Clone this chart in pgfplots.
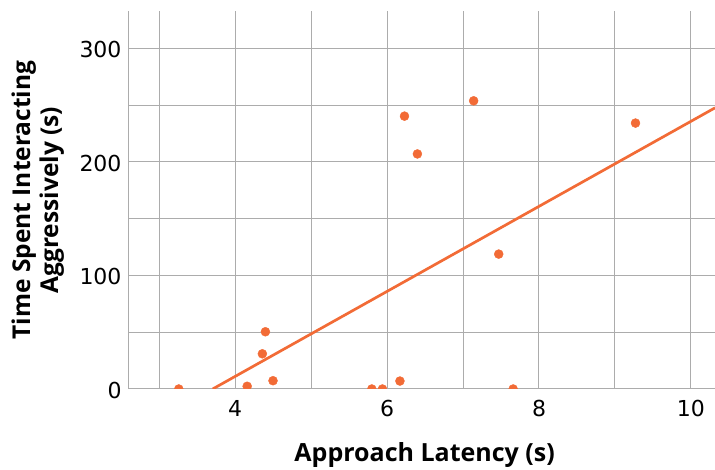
\documentclass[border=0pt]{standalone}
\usepackage{pgfplots}
\pgfplotsset{compat=1.18}
\usepackage{fontspec}
\setmainfont{DejaVu Sans}
\newfontfamily\labelfont{Open Sans}
\definecolor{pt}{RGB}{242,107,54}
\definecolor{gridc}{RGB}{172,172,172}
\begin{document}
\begin{tikzpicture}
\begin{axis}[
  scale only axis,
  width=586.3pt, height=378pt,
  xmin=2.601, xmax=10.316,
  ymin=0, ymax=332.9,
  axis x line*=bottom, axis y line*=left,
  axis line style={gridc, line width=1pt, -},
  xtick={4,6,8,10}, minor xtick={3,5,7,9},
  ytick={0,100,200,300}, minor ytick={50,150,250},
  grid=both,
  major grid style={gridc, line width=1pt},
  minor grid style={gridc, line width=1pt},
  major tick length=0pt, minor tick length=0pt,
  tick label style={font=\fontsize{22}{26}\selectfont},
  /pgf/number format/assume math mode=true,
  xticklabel style={anchor=base, yshift=-28pt},
  yticklabel style={anchor=east, inner sep=0pt, xshift=-7pt, yshift=-1.5pt},
  xlabel={Approach Latency (s)},
  ylabel={Time Spent Interacting\\Aggressively (s)},
  xlabel style={at={(axis description cs:0.5,0)}, anchor=base, yshift=-72.7pt, xshift=2.8pt, font=\labelfont\bfseries\fontsize{25}{28}\selectfont},
  ylabel style={at={([xshift=-91pt]axis description cs:0,0.5)}, anchor=center, align=center, font=\labelfont\bfseries\fontsize{24.5}{28}\selectfont},
  clip marker paths=true,
]
\addplot[only marks, mark=*, mark size=4.5pt, color=pt, mark options={fill=pt, draw=pt}] coordinates {
(3.26,0) (4.16,2.4) (4.40,50.4) (4.36,31) (4.50,7.3) (5.80,0) (5.94,0)
(6.17,7) (6.23,240.3) (6.40,207) (7.14,253.8) (7.47,118.8) (7.66,0) (9.27,234.2)
};
\addplot[color=pt, line width=2.7pt, no marks] coordinates {(3.706,0) (10.316,247.6)};
\end{axis}
\pgfresetboundingbox
\path[use as bounding box] ([shift={(-128.7pt,-81pt)}]current axis.south west) rectangle ++(715pt,470pt);
\end{tikzpicture}
\end{document}
